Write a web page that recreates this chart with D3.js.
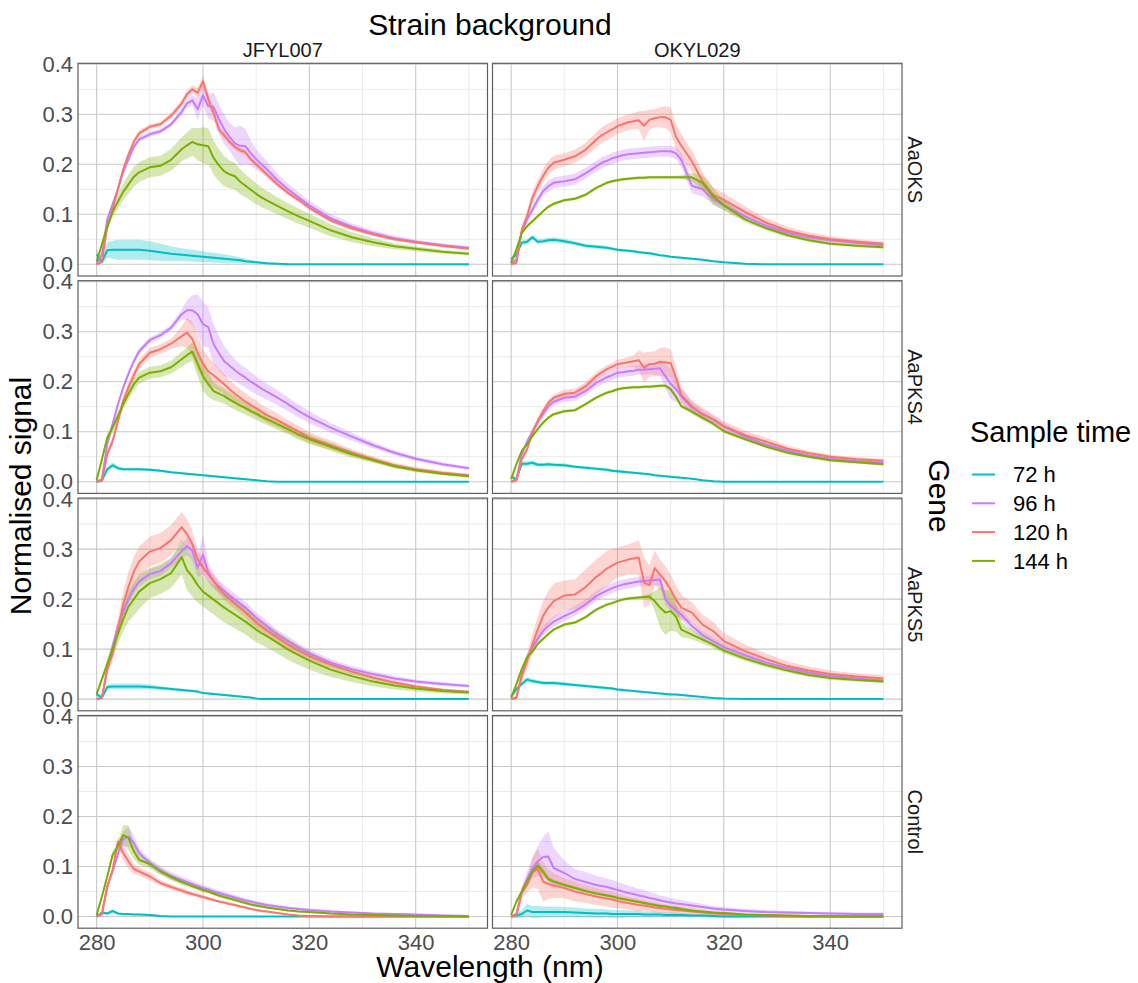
<!DOCTYPE html>
<html>
<head>
<meta charset="utf-8">
<script src="https://cdn.jsdelivr.net/npm/d3@7"></script>
<style>
  body { margin: 0; background: #ffffff; }
  svg { display: block; font-family: "Liberation Sans", Arial, sans-serif; }
</style>
</head>
<body>
<svg id="chart"></svg>
<script>
// wavelength grid (nm)
const wavelength = [280,281,282,283,284,285,286,287,288, 290,292,294, 296,297,298,299,300,301,302,303,
  304,305,306,307,308,309,310,311,312, 314,316,318,320, 324,328,332,336,340,345,350];

const strains = ['JFYL007', 'OKYL029'];
const genes = ['AaOKS', 'AaPKS4', 'AaPKS5', 'Control'];
const times = ['72 h', '96 h', '120 h', '144 h'];
const timeColors = ['#00BFC4', '#C77CFF', '#F8766D', '#7CAE00'];

const xTicks = [280, 300, 320, 340];
const xMinor = [290, 310, 330, 350];
const yTicks = [0, 0.1, 0.2, 0.3, 0.4];
const yMinor = [0.05, 0.15, 0.25, 0.35];

// JFYL007 / AaOKS
const J_OKS_72 = [0.02,0.005,0.028,0.029,0.029,0.029,0.029,0.029,0.029, 0.027,0.024,0.021, 0.019,0.018,0.017,0.016,0.015,0.014,0.013,0.012, 0.011,0.01,0.009,0.008,0.006,0.005,0.004,0.003,0.002, 0.001,0,0,0, 0,0,0,0,0,0,0];
const J_OKS_72_se = [0.01,0.005,0.015,0.018,0.02,0.02,0.02,0.02,0.02, 0.019,0.017,0.015, 0.013,0.012,0.012,0.011,0.011,0.01,0.01,0.009, 0.009,0.008,0.007,0.006,0.005,0.004,0.003,0.002,0.002, 0.001,0,0,0, 0,0,0,0,0,0,0];
const J_OKS_96 = [0,0.02,0.09,0.12,0.15,0.185,0.21,0.235,0.25, 0.26,0.266,0.28, 0.305,0.322,0.328,0.31,0.338,0.316,0.315,0.29, 0.27,0.255,0.242,0.237,0.236,0.222,0.21,0.2,0.19, 0.168,0.15,0.134,0.118, 0.092,0.075,0.062,0.052,0.045,0.038,0.033];
const J_OKS_96_se = [0.003,0.004,0.005,0.005,0.005,0.005,0.005,0.005,0.005, 0.005,0.005,0.005, 0.007,0.009,0.01,0.022,0.02,0.025,0.028,0.03, 0.03,0.028,0.032,0.04,0.035,0.025,0.02,0.018,0.016, 0.013,0.011,0.01,0.009, 0.008,0.007,0.006,0.005,0.004,0.004,0.003];
const J_OKS_120 = [0,0.005,0.075,0.11,0.15,0.19,0.22,0.245,0.262, 0.275,0.28,0.297, 0.322,0.34,0.35,0.343,0.366,0.33,0.303,0.27, 0.258,0.245,0.235,0.228,0.224,0.21,0.2,0.19,0.18, 0.16,0.143,0.129,0.113, 0.088,0.072,0.06,0.05,0.044,0.037,0.031];
const J_OKS_120_se = [0.003,0.003,0.004,0.005,0.005,0.005,0.006,0.006,0.006, 0.005,0.005,0.006, 0.007,0.008,0.008,0.01,0.012,0.012,0.01,0.008, 0.007,0.006,0.006,0.006,0.006,0.005,0.005,0.005,0.005, 0.005,0.005,0.004,0.004, 0.004,0.004,0.003,0.003,0.003,0.003,0.003];
const J_OKS_144 = [0.005,0.04,0.075,0.105,0.125,0.145,0.16,0.175,0.184, 0.194,0.197,0.209, 0.23,0.238,0.245,0.24,0.238,0.236,0.213,0.198, 0.186,0.18,0.176,0.165,0.157,0.149,0.141,0.134,0.128, 0.117,0.106,0.096,0.087, 0.068,0.054,0.044,0.036,0.031,0.025,0.021];
const J_OKS_144_se = [0.003,0.006,0.01,0.012,0.015,0.017,0.019,0.02,0.02, 0.02,0.02,0.022, 0.024,0.026,0.028,0.032,0.036,0.036,0.034,0.032, 0.03,0.028,0.027,0.025,0.023,0.022,0.021,0.02,0.019, 0.017,0.016,0.015,0.014, 0.012,0.01,0.008,0.006,0.005,0.004,0.003];

// OKYL029 / AaOKS
const O_OKS_72 = [0.01,0.02,0.043,0.045,0.054,0.045,0.046,0.048,0.049, 0.046,0.042,0.037, 0.035,0.034,0.033,0.031,0.029,0.028,0.027,0.026, 0.024,0.023,0.022,0.02,0.018,0.017,0.015,0.014,0.013, 0.011,0.009,0.006,0.004, 0.001,0,0,0,0,0,0];
const O_OKS_72_se = [0.005,0.005,0.005,0.005,0.005,0.005,0.005,0.005,0.005, 0.005,0.004,0.004, 0.004,0.004,0.004,0.003,0.003,0.003,0.003,0.003, 0.003,0.003,0.003,0.003,0.002,0.002,0.002,0.002,0.002, 0.002,0.002,0.002,0.001, 0.001,0,0,0,0,0,0];
const O_OKS_96 = [0,0.01,0.065,0.09,0.109,0.129,0.146,0.156,0.163, 0.166,0.17,0.182, 0.196,0.203,0.207,0.212,0.215,0.218,0.22,0.221, 0.222,0.223,0.224,0.225,0.226,0.226,0.226,0.222,0.209, 0.157,0.15,0.131,0.118, 0.096,0.077,0.063,0.054,0.048,0.043,0.038];
const O_OKS_96_se = [0.003,0.004,0.006,0.007,0.008,0.009,0.01,0.011,0.011, 0.011,0.011,0.011, 0.011,0.011,0.011,0.011,0.011,0.011,0.011,0.011, 0.011,0.011,0.011,0.011,0.011,0.011,0.011,0.012,0.014, 0.015,0.014,0.012,0.01, 0.008,0.007,0.006,0.005,0.005,0.005,0.005];
const O_OKS_120 = [0,0.003,0.069,0.096,0.133,0.156,0.176,0.193,0.203, 0.209,0.216,0.229, 0.249,0.258,0.264,0.27,0.276,0.28,0.284,0.286, 0.288,0.277,0.289,0.292,0.294,0.294,0.289,0.255,0.237, 0.206,0.166,0.139,0.129, 0.105,0.083,0.067,0.057,0.05,0.045,0.041];
const O_OKS_120_se = [0.003,0.003,0.008,0.01,0.012,0.013,0.014,0.014,0.014, 0.013,0.013,0.014, 0.015,0.016,0.016,0.016,0.016,0.016,0.016,0.016, 0.018,0.03,0.02,0.018,0.02,0.022,0.025,0.025,0.024, 0.022,0.018,0.015,0.013, 0.011,0.009,0.008,0.007,0.006,0.005,0.005];
const O_OKS_144 = [0.003,0.03,0.063,0.076,0.086,0.096,0.106,0.115,0.121, 0.128,0.131,0.139, 0.153,0.158,0.163,0.166,0.168,0.17,0.171,0.172, 0.173,0.173,0.174,0.174,0.174,0.174,0.174,0.174,0.174, 0.174,0.163,0.136,0.118, 0.09,0.072,0.058,0.048,0.041,0.037,0.034];
const O_OKS_144_se = [0.003,0.003,0.003,0.003,0.003,0.003,0.003,0.003,0.003, 0.003,0.003,0.003, 0.003,0.003,0.003,0.003,0.003,0.003,0.003,0.003, 0.003,0.003,0.003,0.003,0.003,0.003,0.003,0.003,0.004, 0.008,0.015,0.017,0.01, 0.006,0.004,0.004,0.003,0.003,0.003,0.003];

// JFYL007 / AaPKS4
const J_PKS4_72 = [0,0.002,0.025,0.033,0.027,0.025,0.025,0.025,0.025, 0.024,0.022,0.019, 0.017,0.016,0.015,0.014,0.013,0.012,0.011,0.01, 0.009,0.008,0.007,0.006,0.005,0.004,0.003,0.002,0.001, 0,0,0,0, 0,0,0,0,0,0,0];
const J_PKS4_72_se = [0.002,0.002,0.004,0.006,0.004,0.003,0.003,0.003,0.003, 0.003,0.002,0.002, 0.002,0.002,0.002,0.002,0.002,0.002,0.002,0.002, 0.002,0.002,0.002,0.002,0.002,0.001,0.001,0.001,0.001, 0,0,0,0, 0,0,0,0,0,0,0];
const J_PKS4_96 = [0,0.005,0.075,0.115,0.155,0.188,0.216,0.241,0.261, 0.283,0.293,0.308, 0.335,0.343,0.343,0.335,0.315,0.309,0.275,0.257, 0.241,0.232,0.223,0.215,0.208,0.2,0.193,0.186,0.18, 0.168,0.155,0.141,0.129, 0.108,0.09,0.073,0.058,0.046,0.035,0.027];
const J_PKS4_96_se = [0.002,0.003,0.005,0.005,0.006,0.006,0.006,0.006,0.006, 0.006,0.006,0.006, 0.01,0.02,0.03,0.04,0.045,0.04,0.04,0.035, 0.03,0.025,0.022,0.02,0.02,0.019,0.018,0.017,0.016, 0.015,0.014,0.013,0.012, 0.01,0.008,0.006,0.005,0.004,0.004,0.003];
const J_PKS4_120 = [0,0.003,0.055,0.081,0.121,0.161,0.189,0.213,0.235, 0.258,0.265,0.276, 0.291,0.298,0.285,0.258,0.236,0.221,0.213,0.204, 0.195,0.185,0.176,0.168,0.16,0.153,0.147,0.14,0.133, 0.123,0.111,0.1,0.088, 0.073,0.058,0.045,0.033,0.025,0.018,0.013];
const J_PKS4_120_se = [0.002,0.003,0.006,0.008,0.009,0.01,0.01,0.01,0.01, 0.01,0.01,0.01, 0.02,0.03,0.035,0.035,0.03,0.028,0.025,0.022, 0.02,0.019,0.018,0.017,0.017,0.016,0.016,0.015,0.015, 0.014,0.013,0.012,0.011, 0.009,0.007,0.006,0.005,0.004,0.004,0.003];
const J_PKS4_144 = [0.003,0.045,0.088,0.108,0.131,0.155,0.176,0.195,0.208, 0.218,0.221,0.229, 0.245,0.253,0.26,0.236,0.211,0.195,0.181,0.176, 0.171,0.164,0.158,0.152,0.147,0.141,0.136,0.13,0.125, 0.115,0.105,0.094,0.085, 0.07,0.055,0.043,0.031,0.023,0.016,0.011];
const J_PKS4_144_se = [0.002,0.004,0.008,0.01,0.01,0.01,0.012,0.012,0.012, 0.012,0.012,0.013, 0.015,0.016,0.018,0.025,0.03,0.025,0.018,0.016, 0.015,0.014,0.014,0.013,0.013,0.012,0.012,0.012,0.011, 0.011,0.01,0.01,0.009, 0.008,0.007,0.005,0.004,0.004,0.003,0.003];

// OKYL029 / AaPKS4
const O_PKS4_72 = [0.01,0.005,0.036,0.036,0.038,0.034,0.034,0.035,0.034, 0.033,0.03,0.028, 0.026,0.025,0.024,0.022,0.021,0.02,0.019,0.018, 0.017,0.016,0.015,0.013,0.012,0.011,0.01,0.009,0.008, 0.006,0.003,0.001,0, 0,0,0,0,0,0,0];
const O_PKS4_72_se = [0.004,0.004,0.005,0.005,0.005,0.004,0.004,0.004,0.004, 0.004,0.003,0.003, 0.003,0.003,0.003,0.003,0.003,0.003,0.002,0.002, 0.002,0.002,0.002,0.002,0.002,0.002,0.002,0.002,0.002, 0.001,0.001,0.001,0, 0,0,0,0,0,0,0];
const O_PKS4_96 = [0,0.005,0.055,0.08,0.1,0.12,0.135,0.151,0.16, 0.168,0.17,0.181, 0.198,0.203,0.209,0.213,0.218,0.219,0.221,0.222, 0.224,0.224,0.225,0.226,0.227,0.211,0.196,0.185,0.171, 0.148,0.135,0.124,0.11, 0.09,0.074,0.062,0.052,0.046,0.041,0.038];
const O_PKS4_96_se = [0.002,0.003,0.005,0.006,0.007,0.008,0.008,0.008,0.008, 0.008,0.008,0.008, 0.009,0.009,0.009,0.009,0.01,0.01,0.01,0.01, 0.01,0.01,0.01,0.012,0.015,0.025,0.03,0.025,0.015, 0.012,0.01,0.008,0.007, 0.006,0.005,0.005,0.004,0.004,0.004,0.004];
const O_PKS4_120 = [0,0.003,0.045,0.065,0.098,0.121,0.141,0.158,0.168, 0.176,0.178,0.191, 0.211,0.218,0.225,0.23,0.235,0.237,0.239,0.241, 0.243,0.228,0.235,0.236,0.24,0.239,0.237,0.208,0.173, 0.151,0.135,0.125,0.111, 0.093,0.08,0.066,0.057,0.05,0.045,0.042];
const O_PKS4_120_se = [0.003,0.003,0.005,0.005,0.006,0.006,0.006,0.006,0.006, 0.008,0.008,0.008, 0.008,0.008,0.008,0.008,0.009,0.009,0.01,0.012, 0.02,0.03,0.025,0.025,0.028,0.03,0.028,0.02,0.015, 0.012,0.012,0.01,0.01, 0.009,0.008,0.006,0.005,0.004,0.004,0.004];
const O_PKS4_144 = [0.005,0.035,0.061,0.075,0.091,0.105,0.118,0.128,0.135, 0.141,0.143,0.155, 0.168,0.173,0.178,0.181,0.185,0.187,0.188,0.189, 0.189,0.19,0.19,0.191,0.192,0.192,0.185,0.17,0.151, 0.14,0.128,0.116,0.101, 0.085,0.07,0.058,0.05,0.043,0.039,0.035];
const O_PKS4_144_se = [0.003,0.003,0.003,0.003,0.003,0.003,0.003,0.003,0.003, 0.003,0.003,0.003, 0.003,0.003,0.003,0.003,0.003,0.003,0.003,0.003, 0.003,0.003,0.003,0.003,0.003,0.003,0.004,0.004,0.004, 0.004,0.004,0.004,0.003, 0.003,0.003,0.003,0.003,0.003,0.003,0.003];

// JFYL007 / AaPKS5
const J_PKS5_72 = [0.01,0.003,0.024,0.025,0.025,0.025,0.025,0.025,0.025, 0.024,0.022,0.02, 0.018,0.017,0.016,0.015,0.012,0.011,0.01,0.009, 0.008,0.007,0.006,0.005,0.004,0.003,0.001,0,0, 0,0,0,0, 0,0,0,0,0,0,0];
const J_PKS5_72_se = [0.004,0.003,0.005,0.006,0.006,0.006,0.006,0.006,0.006, 0.005,0.004,0.003, 0.003,0.003,0.003,0.003,0.002,0.002,0.002,0.002, 0.002,0.002,0.002,0.002,0.001,0.001,0.001,0,0, 0,0,0,0, 0,0,0,0,0,0,0];
const J_PKS5_96 = [0,0.003,0.06,0.105,0.145,0.175,0.2,0.22,0.235, 0.25,0.256,0.272, 0.296,0.306,0.297,0.263,0.289,0.253,0.236,0.225, 0.216,0.207,0.199,0.191,0.183,0.173,0.163,0.155,0.146, 0.129,0.116,0.103,0.091, 0.073,0.06,0.05,0.041,0.035,0.03,0.026];
const J_PKS5_96_se = [0.002,0.003,0.006,0.008,0.009,0.01,0.01,0.01,0.01, 0.01,0.01,0.01, 0.015,0.018,0.02,0.02,0.04,0.02,0.015,0.013, 0.012,0.012,0.012,0.011,0.011,0.011,0.01,0.01,0.01, 0.009,0.009,0.008,0.008, 0.007,0.006,0.005,0.005,0.004,0.004,0.003];
const J_PKS5_120 = [0,0.003,0.06,0.09,0.14,0.19,0.225,0.255,0.275, 0.295,0.302,0.318, 0.344,0.33,0.31,0.28,0.263,0.25,0.236,0.222, 0.21,0.2,0.191,0.182,0.173,0.163,0.153,0.145,0.137, 0.123,0.109,0.097,0.086, 0.069,0.055,0.043,0.033,0.025,0.018,0.014];
const J_PKS5_120_se = [0.003,0.003,0.01,0.015,0.02,0.025,0.03,0.03,0.03, 0.03,0.03,0.03, 0.03,0.03,0.025,0.02,0.015,0.013,0.012,0.012, 0.012,0.012,0.012,0.011,0.011,0.011,0.01,0.01,0.01, 0.009,0.009,0.008,0.008, 0.007,0.006,0.005,0.004,0.004,0.003,0.003];
const J_PKS5_144 = [0.01,0.04,0.07,0.1,0.13,0.16,0.185,0.2,0.215, 0.232,0.24,0.252, 0.284,0.258,0.245,0.228,0.215,0.207,0.199,0.191, 0.183,0.176,0.169,0.162,0.155,0.147,0.139,0.132,0.126, 0.113,0.099,0.088,0.077, 0.059,0.046,0.035,0.027,0.021,0.016,0.013];
const J_PKS5_144_se = [0.004,0.006,0.01,0.015,0.02,0.025,0.03,0.033,0.035, 0.03,0.03,0.03, 0.035,0.04,0.04,0.035,0.03,0.03,0.03,0.03, 0.03,0.029,0.028,0.027,0.026,0.026,0.025,0.024,0.023, 0.022,0.021,0.02,0.018, 0.015,0.012,0.01,0.008,0.006,0.005,0.004];

// OKYL029 / AaPKS5
const O_PKS5_72 = [0.005,0.02,0.03,0.039,0.036,0.034,0.032,0.032,0.032, 0.03,0.028,0.026, 0.024,0.023,0.022,0.021,0.019,0.018,0.017,0.016, 0.015,0.014,0.013,0.012,0.011,0.01,0.009,0.009,0.008, 0.006,0.004,0.002,0.001, 0,0,0,0,0,0,0];
const O_PKS5_72_se = [0.004,0.004,0.004,0.005,0.005,0.004,0.004,0.004,0.004, 0.004,0.003,0.003, 0.003,0.003,0.003,0.003,0.003,0.003,0.002,0.002, 0.002,0.002,0.002,0.002,0.002,0.002,0.002,0.002,0.002, 0.001,0.001,0.001,0.001, 0,0,0,0,0,0,0];
const O_PKS5_96 = [0,0.003,0.05,0.083,0.103,0.12,0.136,0.146,0.155, 0.166,0.176,0.189, 0.206,0.212,0.217,0.222,0.226,0.229,0.231,0.233, 0.235,0.236,0.237,0.238,0.239,0.2,0.186,0.178,0.169, 0.146,0.128,0.116,0.104, 0.088,0.073,0.062,0.053,0.046,0.041,0.037];
const O_PKS5_96_se = [0.002,0.003,0.006,0.008,0.009,0.01,0.01,0.01,0.01, 0.01,0.01,0.01, 0.01,0.01,0.01,0.01,0.01,0.01,0.01,0.01, 0.01,0.01,0.01,0.01,0.012,0.012,0.01,0.01,0.01, 0.009,0.008,0.008,0.007, 0.006,0.006,0.005,0.005,0.004,0.004,0.004];
const O_PKS5_120 = [0,0.003,0.045,0.076,0.109,0.139,0.166,0.183,0.196, 0.207,0.209,0.224, 0.244,0.252,0.261,0.267,0.273,0.276,0.279,0.281, 0.283,0.233,0.228,0.262,0.249,0.236,0.219,0.199,0.183, 0.173,0.149,0.136,0.116, 0.096,0.08,0.066,0.057,0.05,0.045,0.041];
const O_PKS5_120_se = [0.003,0.003,0.01,0.015,0.02,0.025,0.03,0.033,0.035, 0.03,0.03,0.035, 0.035,0.035,0.035,0.033,0.03,0.03,0.03,0.032, 0.035,0.05,0.04,0.035,0.03,0.03,0.03,0.028,0.025, 0.02,0.02,0.018,0.016, 0.013,0.011,0.009,0.008,0.007,0.006,0.006];
const O_PKS5_144 = [0.003,0.03,0.06,0.084,0.095,0.11,0.12,0.13,0.139, 0.149,0.153,0.164, 0.179,0.184,0.189,0.192,0.196,0.199,0.201,0.202, 0.203,0.204,0.205,0.196,0.183,0.173,0.176,0.165,0.139, 0.129,0.119,0.109,0.097, 0.081,0.068,0.057,0.048,0.042,0.038,0.035];
const O_PKS5_144_se = [0.003,0.003,0.003,0.003,0.003,0.003,0.003,0.003,0.003, 0.003,0.003,0.003, 0.003,0.003,0.003,0.003,0.003,0.003,0.003,0.003, 0.003,0.003,0.005,0.02,0.04,0.045,0.04,0.03,0.015, 0.01,0.008,0.007,0.006, 0.005,0.005,0.004,0.004,0.004,0.003,0.003];

// JFYL007 / Control
const J_CTRL_72 = [0,0.008,0.006,0.011,0.006,0.005,0.005,0.004,0.004, 0.003,0.001,0, 0,0,0,0,0,0,0,0, 0,0,0,0,0,0,0,0,0, 0,0,0,0, 0,0,0,0,0,0,0];
const J_CTRL_72_se = [0.002,0.003,0.003,0.003,0.002,0.002,0.002,0.002,0.002, 0.002,0.001,0, 0,0,0,0,0,0,0,0, 0,0,0,0,0,0,0,0,0, 0,0,0,0, 0,0,0,0,0,0,0];
const J_CTRL_96 = [0,0.005,0.06,0.09,0.125,0.155,0.16,0.147,0.127, 0.107,0.093,0.081, 0.073,0.069,0.065,0.061,0.057,0.054,0.05,0.047, 0.044,0.041,0.038,0.035,0.032,0.03,0.027,0.025,0.023, 0.02,0.017,0.015,0.013, 0.01,0.008,0.006,0.005,0.004,0.002,0.001];
const J_CTRL_96_se = [0.002,0.003,0.005,0.006,0.01,0.015,0.02,0.015,0.01, 0.008,0.008,0.008, 0.007,0.007,0.007,0.006,0.006,0.006,0.006,0.005, 0.005,0.005,0.005,0.005,0.005,0.004,0.004,0.004,0.004, 0.004,0.003,0.003,0.003, 0.003,0.002,0.002,0.002,0.002,0.002,0.002];
const J_CTRL_120 = [0,0.005,0.06,0.093,0.15,0.127,0.11,0.095,0.09, 0.08,0.067,0.059, 0.052,0.048,0.045,0.042,0.039,0.036,0.033,0.03, 0.028,0.025,0.023,0.02,0.018,0.015,0.013,0.011,0.01, 0.007,0.004,0.002,0.001, 0,0,0,0,0,0,0];
const J_CTRL_120_se = [0.002,0.003,0.005,0.005,0.01,0.015,0.015,0.01,0.008, 0.008,0.006,0.005, 0.005,0.005,0.004,0.004,0.004,0.004,0.003,0.003, 0.003,0.003,0.003,0.003,0.002,0.002,0.002,0.002,0.002, 0.001,0.001,0.001,0.001, 0,0,0,0,0,0,0];
const J_CTRL_144 = [0.003,0.04,0.08,0.123,0.14,0.163,0.157,0.13,0.113, 0.105,0.09,0.079, 0.069,0.065,0.061,0.057,0.053,0.05,0.046,0.042, 0.039,0.036,0.033,0.03,0.027,0.024,0.022,0.02,0.018, 0.015,0.012,0.01,0.009, 0.006,0.004,0.003,0.002,0.001,0.0005,0];
const J_CTRL_144_se = [0.002,0.003,0.005,0.008,0.01,0.02,0.025,0.015,0.01, 0.008,0.007,0.006, 0.006,0.005,0.005,0.005,0.005,0.004,0.004,0.004, 0.004,0.003,0.003,0.003,0.003,0.003,0.003,0.002,0.002, 0.002,0.002,0.002,0.002, 0.001,0.001,0.001,0.001,0.001,0.001,0.001];

// OKYL029 / Control
const O_CTRL_72 = [0,0.002,0.005,0.012,0.009,0.009,0.009,0.009,0.009, 0.009,0.008,0.007, 0.006,0.006,0.006,0.005,0.005,0.005,0.005,0.005, 0.005,0.004,0.004,0.004,0.004,0.003,0.003,0.003,0.003, 0.002,0.002,0.001,0, 0,0,0,0,0,0,0];
const O_CTRL_72_se = [0.003,0.005,0.008,0.013,0.012,0.012,0.011,0.011,0.011, 0.01,0.01,0.009, 0.009,0.009,0.008,0.008,0.008,0.008,0.007,0.007, 0.007,0.006,0.006,0.006,0.005,0.005,0.005,0.005,0.004, 0.004,0.003,0.003,0.003, 0.002,0.002,0.002,0.002,0.002,0.002,0.002];
const O_CTRL_96 = [0,0.005,0.05,0.075,0.097,0.11,0.119,0.12,0.097, 0.087,0.075,0.069, 0.063,0.061,0.059,0.056,0.053,0.05,0.047,0.045, 0.042,0.04,0.037,0.035,0.032,0.03,0.028,0.026,0.025, 0.022,0.019,0.016,0.014, 0.011,0.009,0.008,0.007,0.006,0.005,0.005];
const O_CTRL_96_se = [0.002,0.003,0.01,0.015,0.02,0.03,0.04,0.05,0.04, 0.025,0.02,0.02, 0.018,0.018,0.017,0.017,0.016,0.016,0.015,0.014, 0.013,0.013,0.012,0.011,0.01,0.01,0.009,0.009,0.008, 0.007,0.006,0.005,0.005, 0.004,0.004,0.003,0.003,0.003,0.003,0.003];
const O_CTRL_120 = [0,0.003,0.047,0.063,0.088,0.095,0.07,0.065,0.062, 0.057,0.05,0.045, 0.04,0.038,0.036,0.034,0.031,0.029,0.027,0.025, 0.023,0.022,0.02,0.018,0.017,0.015,0.014,0.013,0.012, 0.01,0.008,0.006,0.005, 0.003,0.002,0.001,0,0,0,0];
const O_CTRL_120_se = [0.002,0.003,0.01,0.015,0.03,0.04,0.04,0.03,0.025, 0.02,0.02,0.018, 0.017,0.016,0.016,0.016,0.015,0.014,0.013,0.013, 0.012,0.011,0.01,0.01,0.009,0.009,0.008,0.008,0.007, 0.006,0.005,0.005,0.004, 0.003,0.003,0.003,0.003,0.003,0.003,0.003];
const O_CTRL_144 = [0.003,0.03,0.05,0.07,0.09,0.102,0.09,0.075,0.07, 0.063,0.057,0.051, 0.046,0.044,0.042,0.04,0.037,0.035,0.033,0.031, 0.029,0.027,0.025,0.023,0.021,0.02,0.018,0.017,0.015, 0.012,0.01,0.008,0.007, 0.004,0.003,0.002,0.001,0.0005,0,0];
const O_CTRL_144_se = [0.002,0.003,0.004,0.005,0.005,0.01,0.008,0.005,0.004, 0.004,0.004,0.003, 0.003,0.003,0.003,0.003,0.003,0.003,0.003,0.003, 0.003,0.003,0.003,0.003,0.003,0.003,0.003,0.003,0.003, 0.002,0.002,0.002,0.002, 0.002,0.002,0.002,0.002,0.002,0.002,0.002];

// panel table: strain -> gene -> [mean, se] per sample time
const panels = {
  JFYL007: {
    AaOKS: [[J_OKS_72, J_OKS_72_se], [J_OKS_96, J_OKS_96_se], [J_OKS_120, J_OKS_120_se], [J_OKS_144, J_OKS_144_se]],
    AaPKS4: [[J_PKS4_72, J_PKS4_72_se], [J_PKS4_96, J_PKS4_96_se], [J_PKS4_120, J_PKS4_120_se], [J_PKS4_144, J_PKS4_144_se]],
    AaPKS5: [[J_PKS5_72, J_PKS5_72_se], [J_PKS5_96, J_PKS5_96_se], [J_PKS5_120, J_PKS5_120_se], [J_PKS5_144, J_PKS5_144_se]],
    Control: [[J_CTRL_72, J_CTRL_72_se], [J_CTRL_96, J_CTRL_96_se], [J_CTRL_120, J_CTRL_120_se], [J_CTRL_144, J_CTRL_144_se]]
  },
  OKYL029: {
    AaOKS: [[O_OKS_72, O_OKS_72_se], [O_OKS_96, O_OKS_96_se], [O_OKS_120, O_OKS_120_se], [O_OKS_144, O_OKS_144_se]],
    AaPKS4: [[O_PKS4_72, O_PKS4_72_se], [O_PKS4_96, O_PKS4_96_se], [O_PKS4_120, O_PKS4_120_se], [O_PKS4_144, O_PKS4_144_se]],
    AaPKS5: [[O_PKS5_72, O_PKS5_72_se], [O_PKS5_96, O_PKS5_96_se], [O_PKS5_120, O_PKS5_120_se], [O_PKS5_144, O_PKS5_144_se]],
    Control: [[O_CTRL_72, O_CTRL_72_se], [O_CTRL_96, O_CTRL_96_se], [O_CTRL_120, O_CTRL_120_se], [O_CTRL_144, O_CTRL_144_se]]
  }
};

// layout
const width = 1138, height = 983;
const panelW = 409.5, panelH = 212.7;
const colX = [78, 492.5];
const rowY = [63.3, 280.7, 498.1, 715.5];
const font = '"Liberation Sans", Arial, sans-serif';

const svg = d3.select('#chart')
  .attr('width', width)
  .attr('height', height);

svg.append('rect')
  .attr('width', width)
  .attr('height', height)
  .attr('fill', '#ffffff');

const x = d3.scaleLinear().domain([276.5, 353.5]).range([0, panelW]);
const y = d3.scaleLinear().domain([-0.0234, 0.402]).range([panelH, 0]);

const line = d3.line()
  .x(function(d) { return x(d.w); })
  .y(function(d) { return y(d.v); });

const area = d3.area()
  .x(function(d) { return x(d.w); })
  .y0(function(d) { return y(d.v - d.se); })
  .y1(function(d) { return y(d.v + d.se); });

function toPoints(pair) {
  return wavelength.map(function(w, i) {
    return { w: w, v: pair[0][i], se: pair[1][i] };
  });
}

strains.forEach(function(strain, ci) {
  genes.forEach(function(gene, ri) {
    const g = svg.append('g')
      .attr('transform', 'translate(' + colX[ci] + ', ' + rowY[ri] + ')');
    const clipId = 'clip-' + ci + '-' + ri;

    g.append('clipPath')
      .attr('id', clipId)
      .append('rect')
      .attr('width', panelW)
      .attr('height', panelH);

    // minor grid
    g.selectAll('.xminor')
      .data(xMinor)
      .enter()
      .append('line')
      .attr('x1', function(d) { return x(d); })
      .attr('x2', function(d) { return x(d); })
      .attr('y1', 0)
      .attr('y2', panelH)
      .attr('stroke', '#ebebeb')
      .attr('stroke-width', 1);

    g.selectAll('.yminor')
      .data(yMinor)
      .enter()
      .append('line')
      .attr('x1', 0)
      .attr('x2', panelW)
      .attr('y1', function(d) { return y(d); })
      .attr('y2', function(d) { return y(d); })
      .attr('stroke', '#ebebeb')
      .attr('stroke-width', 1);

    // major grid
    g.selectAll('.xmajor')
      .data(xTicks)
      .enter()
      .append('line')
      .attr('x1', function(d) { return x(d); })
      .attr('x2', function(d) { return x(d); })
      .attr('y1', 0)
      .attr('y2', panelH)
      .attr('stroke', '#c9c9c9')
      .attr('stroke-width', 1.1);

    g.selectAll('.ymajor')
      .data(yTicks)
      .enter()
      .append('line')
      .attr('x1', 0)
      .attr('x2', panelW)
      .attr('y1', function(d) { return y(d); })
      .attr('y2', function(d) { return y(d); })
      .attr('stroke', '#c9c9c9')
      .attr('stroke-width', 1.1);

    const data = panels[strain][gene].map(toPoints);
    const plot = g.append('g').attr('clip-path', 'url(#' + clipId + ')');

    plot.selectAll('.ribbon')
      .data(data)
      .enter()
      .append('path')
      .attr('class', 'ribbon')
      .attr('d', area)
      .attr('fill', function(d, i) { return timeColors[i]; })
      .attr('fill-opacity', 0.3);

    plot.selectAll('.series')
      .data(data)
      .enter()
      .append('path')
      .attr('class', 'series')
      .attr('d', line)
      .attr('fill', 'none')
      .attr('stroke', function(d, i) { return timeColors[i]; })
      .attr('stroke-width', 2)
      .attr('stroke-linejoin', 'round');

    g.append('rect')
      .attr('width', panelW)
      .attr('height', panelH)
      .attr('fill', 'none')
      .attr('stroke', '#5e5e5e')
      .attr('stroke-width', 1.2);

    // y axis labels on the left column
    if (ci === 0) {
      const ya = g.append('g')
        .attr('class', 'y axis')
        .call(d3.axisLeft(y).tickValues(yTicks).tickFormat(d3.format('.1f')).tickSize(0).tickPadding(5));
      ya.select('.domain').remove();
      ya.selectAll('text')
        .attr('font-size', 22)
        .attr('font-family', font)
        .attr('fill', '#4d4d4d');
    }

    // x axis labels on the bottom row
    if (ri === genes.length - 1) {
      const xa = g.append('g')
        .attr('class', 'x axis')
        .attr('transform', 'translate(0, ' + panelH + ')')
        .call(d3.axisBottom(x).tickValues(xTicks).tickSize(0).tickPadding(6));
      xa.select('.domain').remove();
      xa.selectAll('text')
        .attr('font-size', 22)
        .attr('font-family', font)
        .attr('fill', '#4d4d4d');
    }
  });
});

// strip labels
strains.forEach(function(strain, ci) {
  svg.append('text')
    .attr('x', colX[ci] + panelW / 2)
    .attr('y', 57)
    .attr('text-anchor', 'middle')
    .attr('font-size', 20)
    .attr('fill', '#1a1a1a')
    .text(strain);
});

genes.forEach(function(gene, ri) {
  svg.append('text')
    .attr('transform', 'translate(908, ' + (rowY[ri] + panelH / 2) + ') rotate(90)')
    .attr('text-anchor', 'middle')
    .attr('font-size', 20)
    .attr('fill', '#1a1a1a')
    .text(gene);
});

// titles
svg.append('text')
  .attr('x', 490)
  .attr('y', 35)
  .attr('text-anchor', 'middle')
  .attr('font-size', 30)
  .attr('fill', '#000000')
  .text('Strain background');

svg.append('text')
  .attr('x', 490)
  .attr('y', 977)
  .attr('text-anchor', 'middle')
  .attr('font-size', 30)
  .attr('fill', '#000000')
  .text('Wavelength (nm)');

svg.append('text')
  .attr('transform', 'translate(31, 496) rotate(-90)')
  .attr('text-anchor', 'middle')
  .attr('font-size', 30)
  .attr('fill', '#000000')
  .text('Normalised signal');

svg.append('text')
  .attr('transform', 'translate(929, 496) rotate(90)')
  .attr('text-anchor', 'middle')
  .attr('font-size', 30)
  .attr('fill', '#000000')
  .text('Gene');

// legend
const legend = svg.append('g').attr('transform', 'translate(970, 0)');

legend.append('text')
  .attr('x', 0)
  .attr('y', 442)
  .attr('font-size', 29)
  .attr('fill', '#000000')
  .text('Sample time');

const keys = legend.selectAll('.key')
  .data(times)
  .enter()
  .append('g')
  .attr('class', 'key')
  .attr('transform', function(d, i) { return 'translate(0, ' + (474.5 + i * 28.8) + ')'; });

keys.append('line')
  .attr('x1', 2)
  .attr('x2', 25)
  .attr('stroke', function(d, i) { return timeColors[i]; })
  .attr('stroke-width', 2);

keys.append('text')
  .attr('x', 43)
  .attr('y', 0)
  .attr('dy', '0.35em')
  .attr('font-size', 22)
  .attr('fill', '#000000')
  .text(function(d) { return d; });
</script>
</body>
</html>
